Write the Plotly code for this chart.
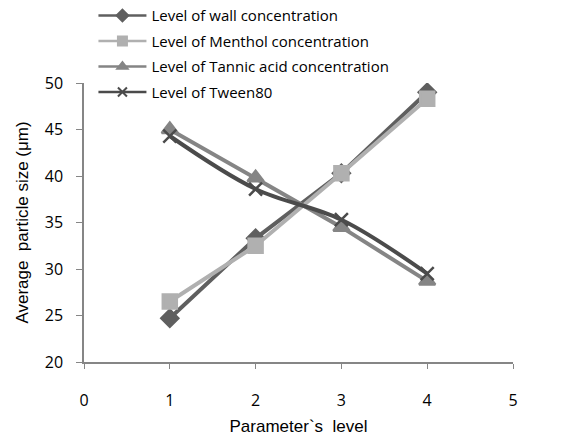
import plotly.graph_objects as go

levels = [1, 2, 3, 4]
wall = [24.7, 33.3, 40.3, 49.0]
menthol = [26.5, 32.5, 40.3, 48.3]
tannic = [45.0, 39.8, 34.5, 28.7]
tween = [44.3, 38.6, 35.3, 29.5]

series = [
    ("Level of wall concentration", wall, "#5f5f5f", "diamond", 13, "linear"),
    ("Level of Menthol concentration", menthol, "#b0b0b0", "square", 14, "linear"),
    ("Level of Tannic acid concentration", tannic, "#858585", "triangle-up", 14, "linear"),
    ("Level of Tween80", tween, "#4b4b4b", "x-thin", 13, "spline"),
]

fig = go.Figure()
for i, (name, vals, col, sym, sz, shape) in enumerate(series):
    fig.add_trace(go.Scatter(
        x=levels, y=vals, name=name, mode="lines+markers",
        showlegend=False,
        line=dict(color=col, width=4, shape=shape),
        marker=dict(symbol=sym, size=sz, color=col,
                    line=dict(color=col, width=2.5)),
    ))
# legend-only entries with smaller symbols
for i, (name, vals, col, sym, sz, shape) in enumerate(series):
    fig.add_trace(go.Scatter(
        x=[None], y=[None], name=name, mode="lines+markers",
        legendgroup=f"g{i}",
        line=dict(color=col, width=2.5),
        marker=dict(symbol=sym, size=9, color=col,
                    line=dict(color=col, width=2)),
    ))

fig.update_layout(
    width=563, height=439,
    margin=dict(l=84, r=50, t=83, b=77, autoexpand=False),
    paper_bgcolor="white", plot_bgcolor="white",
    font=dict(family="Liberation Sans, Arial", color="black"),
    showlegend=True,
    legend=dict(x=0.022, y=1.30, xanchor="left", yanchor="top",
                font=dict(size=15, family="Open Sans, Liberation Sans"),
                itemwidth=48,
                tracegroupgap=3, bgcolor="rgba(0,0,0,0)"),
    xaxis=dict(range=[0, 5], tickvals=[0, 1, 2, 3, 4, 5], showgrid=False,
               showline=True, linecolor="#868686", linewidth=1.5,
               ticks="outside", ticklen=5, tickcolor="#868686",
               ticklabelstandoff=18,
               tickfont=dict(size=16, family="Open Sans, Liberation Sans"),
               title=dict(text="Parameter`s  level", font=dict(size=17), standoff=10),
               zeroline=False),
    yaxis=dict(range=[20, 50], tickvals=[20, 25, 30, 35, 40, 45, 50], showgrid=False,
               showline=True, linecolor="#868686", linewidth=1.5,
               ticks="outside", ticklen=6, tickcolor="#868686",
               ticklabelstandoff=10,
               tickfont=dict(size=16, family="Open Sans, Liberation Sans"),
               title=dict(text="Average  particle size (μm)", font=dict(size=17), standoff=12),
               zeroline=False),
)

fig.write_html("out.html")
